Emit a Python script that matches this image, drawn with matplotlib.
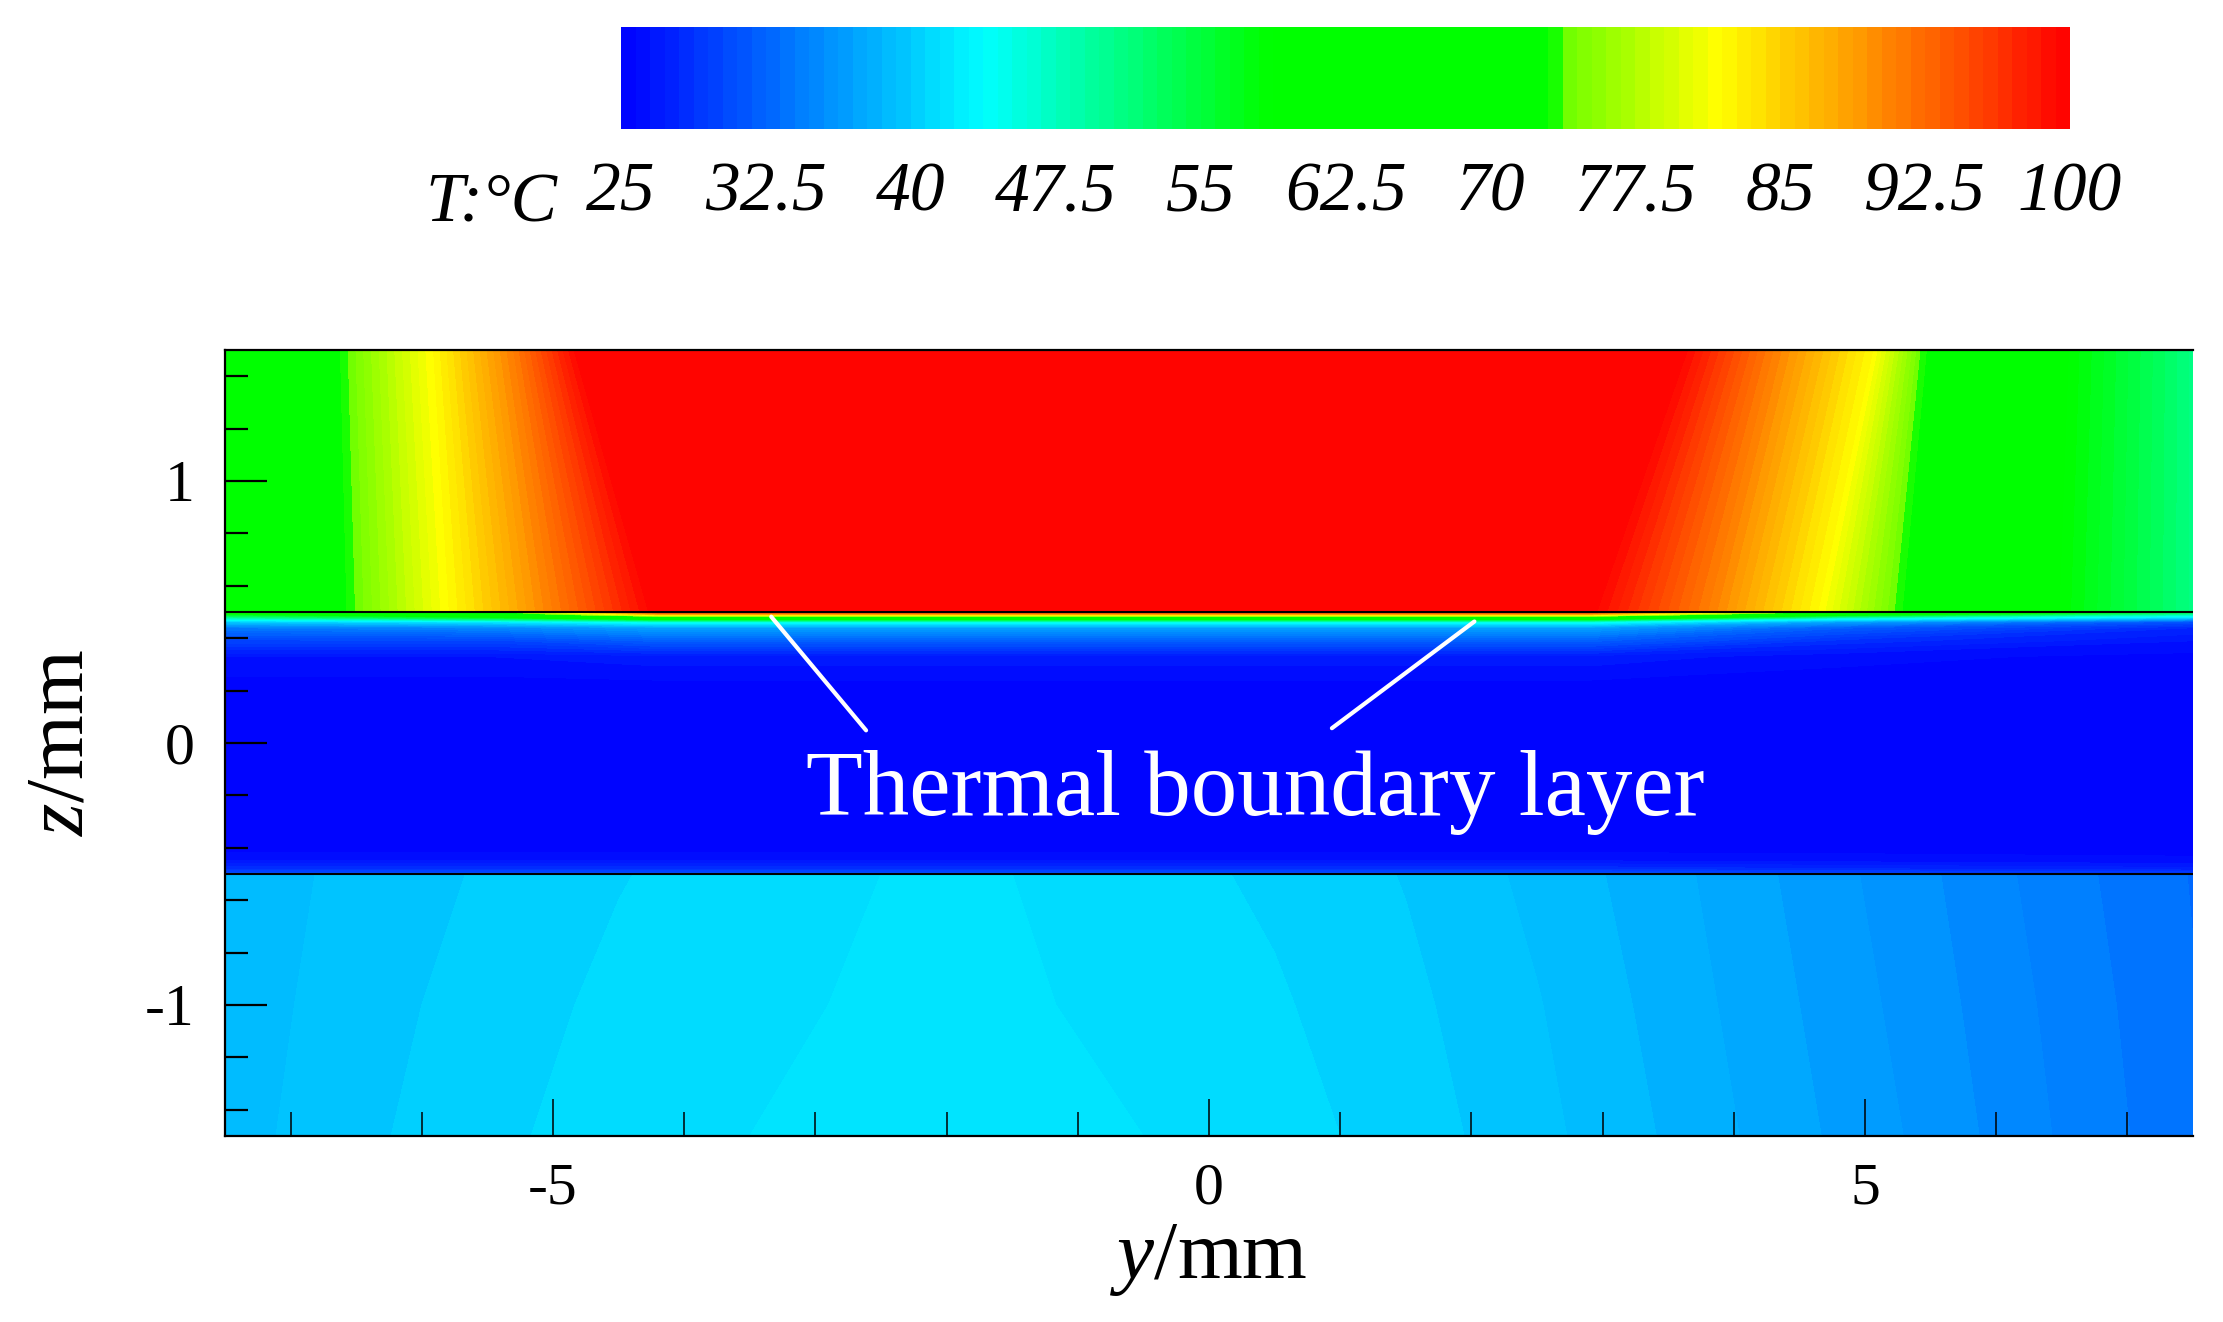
import numpy as np
import matplotlib
matplotlib.use("Agg")
import matplotlib.pyplot as plt
from matplotlib.colors import LinearSegmentedColormap
from matplotlib.ticker import MultipleLocator

plt.rcParams['font.family'] = ['Liberation Serif', 'DejaVu Serif']
plt.rcParams['mathtext.fontset'] = 'custom'
plt.rcParams['mathtext.rm'] = 'Liberation Serif'
plt.rcParams['mathtext.it'] = 'Liberation Serif:italic'
plt.rcParams['axes.unicode_minus'] = False

# ---------------- data ----------------
# colour scale
t_min, t_max = 25.0, 100.0
cbar_ticks = [25, 32.5, 40, 47.5, 55, 62.5, 70, 77.5, 85, 92.5, 100]
cbar_labels = ['25', '32.5', '40', '47.5', '55', '62.5', '70', '77.5', '85', '92.5', '100']

# axis ticks
x_major = [-5, 0, 5]
y_major = [-1, 0, 1]
layer_interfaces = [-0.5, 0.5]

# top layer (z 0.5 .. 1.5): isotherm positions along the two boundaries
top_T = [62, 73, 82, 91, 99.6, 99.6, 91, 82, 73.5, 58.5, 51]
top_y_at_z05 = [-7.5, -6.57, -5.79, -5.0, -4.24, 2.92, 3.8, 4.64, 5.24, 6.5, 7.5]
top_y_at_z15 = [-7.5, -6.62, -5.91, -5.3, -4.82, 3.62, 4.3, 5.06, 5.43, 6.57, 7.5]
top_z = [0.5, 1.5]

# middle layer (z -0.5 .. 0.5)
mid_y = [-7.5, -5.5, -4.2, 2.9, 4.8, 7.5]
mid_z = [-0.5, -0.48, -0.45, -0.40, 0.20, 0.33, 0.39, 0.44, 0.462, 0.477, 0.49, 0.5]
mid_T = [
    [31.0, 31.0, 31.0, 31.0, 30.0, 29.5],
    [28.5, 28.5, 28.5, 28.5, 28.0, 27.5],
    [26.5, 26.5, 26.5, 26.5, 26.3, 26.0],
    [25.3, 25.3, 25.3, 25.3, 25.3, 25.3],
    [25.2, 25.2, 25.2, 25.2, 25.2, 25.2],
    [26.5, 26.5, 27.0, 27.0, 26.0, 25.5],
    [30.0, 30.0, 32.0, 32.0, 28.5, 26.5],
    [34.0, 35.0, 37.0, 37.0, 32.0, 28.0],
    [40.0, 42.0, 45.0, 45.0, 37.0, 31.0],
    [48.0, 55.0, 64.0, 64.0, 46.0, 40.0],
    [56.0, 65.0, 86.0, 86.0, 60.0, 48.0],
    [62.0, 72.0, 97.0, 97.0, 72.0, 55.0],
]

# bottom layer (z -1.5 .. -0.5)
bot_y = [-7.5, -6.5, -5.5, -4.5, -3.5, -2.5, -1.5, -0.5, 0.5, 1.5, 2.5, 3.5, 4.5, 5.5, 6.5, 7.5]
bot_z = [-1.5, -1.0, -0.5]
bot_T = [
    [38.9, 39.8, 40.55, 41.15, 41.5, 41.7, 41.7, 41.5, 41.1, 40.4, 39.5, 38.4, 37.2, 36.0, 34.65, 33.4],
    [38.8, 39.65, 40.35, 40.95, 41.35, 41.6, 41.6, 41.3, 40.85, 40.2, 39.3, 38.2, 37.0, 35.8, 34.5, 33.3],
    [38.7, 39.5, 40.1, 40.7, 41.15, 41.5, 41.5, 41.05, 40.6, 39.95, 39.04, 38.0, 36.8, 35.6, 34.3, 33.2],
]

# ---------------- colour map ----------------
cmap = LinearSegmentedColormap.from_list('tec', [
    (0.0, (0, 0, 1)),
    (0.25, (0, 1, 1)),
    (0.445, (0, 1, 0)),
    (0.645, (0, 1, 0)),
    (0.655, (0.45, 1, 0)),
    (0.757, (1, 1, 0)),
    (0.88, (1, 0.5, 0)),
    (1.0, (1, 0, 0)),
])
levels = np.linspace(t_min, t_max, 101)

fig = plt.figure(figsize=(22.23, 13.22), dpi=100)
ax = fig.add_axes([0.1012, 0.1407, 0.8853, 0.5946])

kw = dict(levels=levels, cmap=cmap, vmin=t_min, vmax=t_max, antialiased=False)

# top layer: curvilinear grid
Xt = np.array([top_y_at_z05, top_y_at_z15])
Zt = np.array([[top_z[0]] * len(top_T), [top_z[1]] * len(top_T)])
Tt = np.array([top_T, top_T])
cs = ax.contourf(Xt, Zt, Tt, **kw)

Xm, Zm = np.meshgrid(mid_y, mid_z)
ax.contourf(Xm, Zm, np.array(mid_T), **kw)

Xb, Zb = np.meshgrid(bot_y, bot_z)
ax.contourf(Xb, Zb, np.array(bot_T), **kw)

for zi in layer_interfaces:
    ax.axhline(zi, color='black', lw=1.5, zorder=3)

ax.set_xlim(-7.5, 7.5)
ax.set_ylim(-1.5, 1.5)
ax.set_xticks(x_major)
ax.set_yticks(y_major)
ax.set_xticklabels(['-5', '0', '5'])
ax.set_yticklabels(['-1', '0', '1'])
ax.xaxis.set_minor_locator(MultipleLocator(1))
ax.yaxis.set_minor_locator(MultipleLocator(0.2))
ax.tick_params(axis='both', which='both', direction='in', top=False, right=False, color='black')
ax.tick_params(axis='x', which='major', length=27, width=1.1, labelsize=43, pad=19)
ax.tick_params(axis='x', which='minor', length=17, width=1.1)
ax.tick_params(axis='y', which='major', length=30, width=1.6, labelsize=43, pad=22)
ax.tick_params(axis='y', which='minor', length=16.5, width=1.6)
ax.spines['right'].set_visible(False)
for s in ['left', 'top', 'bottom']:
    ax.spines[s].set_linewidth(1.6)
    ax.spines[s].set_color('black')

ax.set_xlabel(r'$\mathit{y}\mathrm{/mm}$', fontsize=60)
ax.xaxis.set_label_coords(0.5, -0.11)
ax.set_ylabel(r'$\mathit{z}\mathrm{/mm}$', fontsize=60)
ax.yaxis.set_label_coords(-0.063, 0.5)

# annotation
ax.text(0.35, -0.275, 'Thermal boundary layer', color='white', fontsize=67,
        ha='center', va='baseline', zorder=5)
ax.annotate('', xy=(-3.35, 0.49), xytext=(-2.6, 0.04),
            arrowprops=dict(arrowstyle='-', color='white', lw=3), zorder=5)
ax.annotate('', xy=(2.04, 0.47), xytext=(0.92, 0.05),
            arrowprops=dict(arrowstyle='-', color='white', lw=3), zorder=5)

# colour bar
cax = fig.add_axes([0.2794, 0.9024, 0.6518, 0.0772])
cb = fig.colorbar(cs, cax=cax, orientation='horizontal', ticks=cbar_ticks)
cb.outline.set_visible(False)
cb.set_ticklabels(cbar_labels)
cax.tick_params(length=0, pad=24, labelsize=50)
for lbl in cax.get_xticklabels():
    lbl.set_fontstyle('italic')
fig.text(425 / 2223, 1 - 222 / 1322, 'T:°C', fontsize=50, fontstyle='italic',
         ha='left', va='baseline')

fig.savefig('out.png', dpi=100)
